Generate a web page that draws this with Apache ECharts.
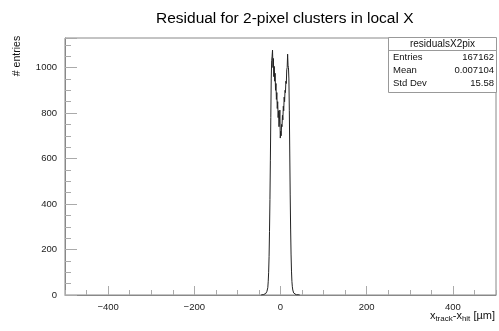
<!DOCTYPE html>
<html>
<head>
<meta charset="utf-8">
<script src="https://cdn.jsdelivr.net/npm/echarts@6/dist/echarts.min.js"></script>
<style>html,body{margin:0;padding:0;background:#fff;}#c{width:499px;height:331px;}</style>
</head>
<body>
<div id="c"></div>
<script>
// ---- data ----
const chartTitle = 'Residual for 2-pixel clusters in local X';
const histName = 'residualsX2pix';
const statLabels = ['Entries', 'Mean', 'Std Dev'];
const statValues = ['167162', '0.007104', '15.58'];
const xTickLabels = [-400, -200, 0, 200, 400];
const yTickLabels = [0, 200, 400, 600, 800, 1000];
// bin centers (1 µm bins)
const binCenters = [
 -45,-44,-43,-42,-41,-40,-39,-38,-37,-36,
 -35,-34,-33,-32,-31,-30,-29,-28,-27,-26,
 -25,-24,-23,-22,-21,-20,-19,-18,-17,-16,
 -15,-14,-13,-12,-11,-10,-9,-8,-7,-6,
 -5,-4,-3,-2,-1,0,1,2,3,4,
 5,6,7,8,9,10,11,12,13,14,
 15,16,17,18,19,20,21,22,23,24,
 25,26,27,28,29,30,31,32,33,34,
 35,36,37,38,39,40,41,42,43,44,45
];
const counts = [
 0,0,1,0,1,1,2,1,3,4,
 5,7,9,12,16,22,32,58,100,170,
 280,420,590,780,950,1030,1050,1077,1000,1040,
 960,1005,940,975,900,930,860,890,820,850,
 780,810,740,770,813,690,720,700,750,740,
 790,770,830,810,870,850,900,890,940,930,
 990,1000,1059,1010,1000,950,810,620,440,290,
 180,105,60,36,22,14,9,6,4,3,
 2,1,1,0,1,0,0,1,0,0,0
];
// ---- chart ----
const seriesData = binCenters.map((x, i) => [x, counts[i]]);
const FONT = 'Liberation Sans';
const chart = echarts.init(document.getElementById('c'), null, {renderer: 'canvas'});
const fmt = list => v => {
  const r = Math.round(v);
  return list.includes(r) ? String(r).replace('-', '\u2212') : '';
};
chart.setOption({
  animation: false,
  backgroundColor: '#fff',
  title: {
    text: chartTitle, left: 151, top: 6,
    textStyle: {fontFamily: FONT, fontSize: 15.5, fontWeight: 'normal', color: '#000'}
  },
  grid: {left: 65, right: 3, top: 38, bottom: 36, show: true, borderColor: '#888', borderWidth: 1, backgroundColor: 'transparent'},
  xAxis: [
    {type: 'value', min: -500, max: 500, interval: 100, position: 'bottom', offset: 0,
     axisLine: {show: true, onZero: false, lineStyle: {color: '#888', width: 1}},
     axisTick: {show: true, inside: true, length: 9, customValues: xTickLabels, lineStyle: {color: '#aaa'}},
     axisLabel: {show: true, customValues: xTickLabels, formatter: fmt(xTickLabels), fontFamily: FONT, fontSize: 9.5, color: '#222', margin: 7},
     splitLine: {show: false}},
    {type: 'value', min: -500, max: 500, interval: 50, position: 'bottom', offset: 0,
     axisLine: {show: false, onZero: false},
     axisTick: {show: true, inside: true, length: 5, lineStyle: {color: '#aaa'}},
     axisLabel: {show: false}, splitLine: {show: false}}
  ],
  yAxis: [
    {type: 'value', min: 0, max: 1130, interval: 200, position: 'left', offset: 0,
     axisLine: {show: true, onZero: false, lineStyle: {color: '#888', width: 1}},
     axisTick: {show: true, inside: true, length: 12, lineStyle: {color: '#aaa'}},
     axisLabel: {formatter: fmt(yTickLabels), fontFamily: FONT, fontSize: 9.5, color: '#222', margin: 8},
     splitLine: {show: false}},
    {type: 'value', min: 0, max: 1130, interval: 50, position: 'left', offset: 0,
     axisLine: {show: false, onZero: false},
     axisTick: {show: true, inside: true, length: 6, lineStyle: {color: '#aaa'}},
     axisLabel: {show: false}, splitLine: {show: false}}
  ],
  series: [{
    type: 'line', step: 'middle', data: seriesData, xAxisIndex: 0, yAxisIndex: 0,
    symbol: 'none', lineStyle: {color: '#222', width: 1}, silent: true
  }],
  graphic: [
    {type: 'rect', shape: {x: 388.5, y: 37.5, width: 108, height: 55}, style: {fill: '#fff', stroke: '#999', lineWidth: 1}, z: 100},
    {type: 'line', shape: {x1: 388.5, y1: 50.5, x2: 496.5, y2: 50.5}, style: {stroke: '#999', lineWidth: 1}, z: 101},
    {type: 'text', x: 442.5, y: 44, style: {text: histName, fontFamily: FONT, fontSize: 10, fill: '#111', align: 'center', verticalAlign: 'middle'}, z: 101},
    {type: 'text', x: 393, y: 57, style: {text: statLabels[0], fontFamily: FONT, fontSize: 9.5, fill: '#111', align: 'left', verticalAlign: 'middle'}, z: 101},
    {type: 'text', x: 494, y: 57, style: {text: statValues[0], fontFamily: FONT, fontSize: 9.5, fill: '#111', align: 'right', verticalAlign: 'middle'}, z: 101},
    {type: 'text', x: 393, y: 70.5, style: {text: statLabels[1], fontFamily: FONT, fontSize: 9.5, fill: '#111', align: 'left', verticalAlign: 'middle'}, z: 101},
    {type: 'text', x: 494, y: 70.5, style: {text: statValues[1], fontFamily: FONT, fontSize: 9.5, fill: '#111', align: 'right', verticalAlign: 'middle'}, z: 101},
    {type: 'text', x: 393, y: 83, style: {text: statLabels[2], fontFamily: FONT, fontSize: 9.5, fill: '#111', align: 'left', verticalAlign: 'middle'}, z: 101},
    {type: 'text', x: 494, y: 83, style: {text: statValues[2], fontFamily: FONT, fontSize: 9.5, fill: '#111', align: 'right', verticalAlign: 'middle'}, z: 101},
    {type: 'text', x: 17, y: 56, rotation: Math.PI / 2,
     style: {text: '# entries', fontFamily: FONT, fontSize: 10.5, fill: '#111', align: 'center', verticalAlign: 'middle'}},
    {type: 'text', x: 495, y: 316,
     style: {
       text: '{m|x}{s|track}{m|-x}{s|hit}{m| [µm]}',
       align: 'right', verticalAlign: 'middle',
       rich: {
         m: {fontFamily: FONT, fontSize: 11, fill: '#111'},
         s: {fontFamily: FONT, fontSize: 8, fill: '#111', padding: [6, 0, 0, 0]}
       }
     }}
  ]
});
</script>
</body>
</html>
